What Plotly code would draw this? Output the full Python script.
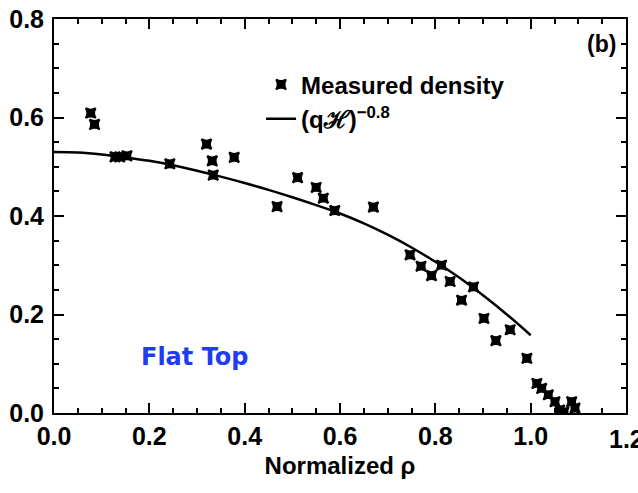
import plotly.graph_objects as go

# Measured density profile (normalized rho vs density)
rho_meas = [0.077, 0.085, 0.128, 0.138, 0.153, 0.243, 0.320, 0.332, 0.334, 0.378,
            0.468, 0.511, 0.550, 0.565, 0.589, 0.670, 0.747, 0.770, 0.792, 0.813,
            0.831, 0.855, 0.880, 0.902, 0.927, 0.957, 0.992, 1.013, 1.023, 1.037,
            1.051, 1.061, 1.070, 1.086, 1.093]
dens_meas = [0.609, 0.586, 0.520, 0.520, 0.522, 0.506, 0.546, 0.512, 0.483, 0.519,
             0.419, 0.478, 0.458, 0.436, 0.411, 0.418, 0.321, 0.298, 0.279, 0.300,
             0.267, 0.229, 0.256, 0.192, 0.147, 0.169, 0.111, 0.060, 0.050, 0.037,
             0.023, 0.006, 0.002, 0.023, 0.010]

# Model curve (qH)^-0.8
rho_fit = [0.0, 0.05, 0.1, 0.15, 0.2, 0.25, 0.3, 0.35, 0.4, 0.45, 0.5,
           0.55, 0.6, 0.65, 0.7, 0.75, 0.8, 0.85, 0.9, 0.95, 1.0]
dens_fit = [0.530, 0.529, 0.525, 0.519, 0.512, 0.503, 0.492, 0.480, 0.467, 0.453, 0.438,
            0.422, 0.405, 0.385, 0.362, 0.336, 0.307, 0.275, 0.239, 0.200, 0.158]

x_ticks = [0.0, 0.2, 0.4, 0.6, 0.8, 1.0, 1.2]
y_ticks = [0.0, 0.2, 0.4, 0.6, 0.8]

FONT = "Liberation Sans"
TICK_FONT = dict(family=FONT, size=25, color="black", weight="bold")

fig = go.Figure()
fig.add_trace(go.Scatter(
    x=rho_meas, y=dens_meas, mode="markers", name="Measured density",
    marker=dict(symbol="star-square", size=9, color="black",
                line=dict(color="black", width=2)),
))
fig.add_trace(go.Scatter(
    x=rho_fit, y=dens_fit, mode="lines", name="(q\u210b)<sup>\u22120.8</sup>",
    line=dict(color="black", width=2.5, shape="spline"),
))

axis_common = dict(
    showline=True, linecolor="black", linewidth=2, mirror="allticks",
    ticks="inside", ticklen=10, tickwidth=2, tickcolor="black",
    showgrid=False, zeroline=False, automargin=False,
    tickfont=TICK_FONT,
    minor=dict(ticks="inside", ticklen=5, tickwidth=1.5, tickcolor="black",
               dtick=0.05, showgrid=False),
)

# the last x label runs past the page edge, so it is drawn as an annotation
x_text = [f"{v:.1f}" for v in x_ticks]
fig.update_xaxes(range=[0, 1.2], tickvals=x_ticks,
                 ticktext=x_text[:-1] + [""],
                 title=dict(text="Normalized \u03c1", standoff=8,
                            font=dict(family=FONT, size=24,
                                      color="black", weight="bold")),
                 **axis_common)
fig.update_yaxes(range=[0, 0.8], tickvals=y_ticks,
                 ticktext=[f"{v:.1f}" for v in y_ticks],
                 ticklabelstandoff=3,
                 **axis_common)

fig.add_annotation(x=x_ticks[-1], y=0, xref="x", yref="y", text=x_text[-1],
                   showarrow=False, yanchor="top", yshift=-10,
                   font=TICK_FONT)
fig.add_annotation(x=1.148, y=0.75, text="(b)", showarrow=False,
                   font=dict(family=FONT, size=23, color="black",
                             weight="bold"))
fig.add_annotation(x=0.296, y=0.114, text="Flat Top", showarrow=False,
                   font=dict(family="DejaVu Sans", size=24, color="#1f3cf5",
                             weight="bold"))

fig.update_layout(
    width=638, height=493,
    margin=dict(l=54, r=12, t=19, b=80),
    paper_bgcolor="white", plot_bgcolor="white",
    showlegend=True,
    legend=dict(x=0.362, y=0.89, xanchor="left", yanchor="top",
                bgcolor="rgba(0,0,0,0)", itemwidth=30, tracegroupgap=0,
                font=dict(family=FONT, size=24, color="black",
                          weight="bold")),
)

fig.write_html("out.html")
